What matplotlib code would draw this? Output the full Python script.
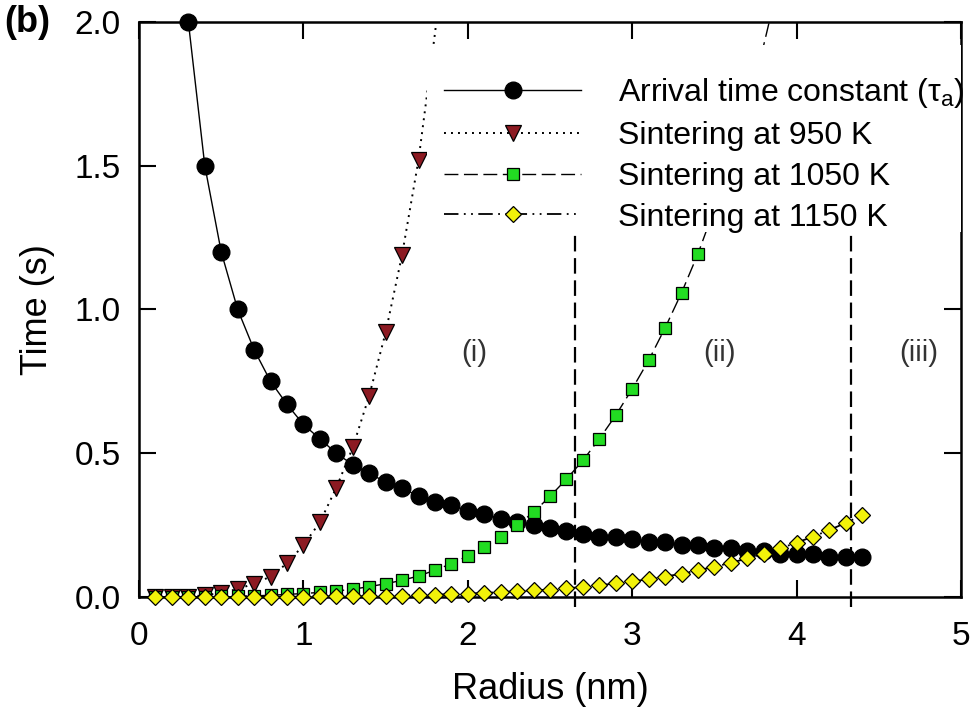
import numpy as np
import matplotlib
matplotlib.use('Agg')
import matplotlib.pyplot as plt
from matplotlib.patches import Rectangle

plt.rcParams['font.family'] = ['Liberation Sans', 'DejaVu Sans']
plt.rcParams['mathtext.fontset'] = 'custom'
plt.rcParams['mathtext.rm'] = 'Liberation Sans'

# radius grid (nm)
r_arrival = [0.3, 0.4, 0.5, 0.6, 0.7, 0.8, 0.9, 1.0, 1.1, 1.2, 1.3, 1.4, 1.5, 1.6,
             1.7, 1.8, 1.9, 2.0, 2.1, 2.2, 2.3, 2.4, 2.5, 2.6, 2.7, 2.8, 2.9, 3.0,
             3.1, 3.2, 3.3, 3.4, 3.5, 3.6, 3.7, 3.8, 3.9, 4.0, 4.1, 4.2, 4.3, 4.4]
tau_arrival = [2.00, 1.50, 1.20, 1.00, 0.86, 0.75, 0.67, 0.60, 0.55, 0.50, 0.46, 0.43,
               0.40, 0.38, 0.35, 0.33, 0.32, 0.30, 0.29, 0.27, 0.26, 0.25, 0.24, 0.23,
               0.22, 0.21, 0.21, 0.20, 0.19, 0.19, 0.18, 0.18, 0.17, 0.17, 0.16, 0.16,
               0.15, 0.15, 0.15, 0.14, 0.14, 0.14]

r_950 = [0.1, 0.2, 0.3, 0.4, 0.5, 0.6, 0.7, 0.8, 0.9, 1.0, 1.1, 1.2, 1.3, 1.4, 1.5,
         1.6, 1.7, 1.8, 1.9]
t_950 = [0.0, 0.0, 0.001, 0.006, 0.014, 0.028, 0.046, 0.071, 0.117, 0.18, 0.26, 0.38,
         0.52, 0.70, 0.92, 1.19, 1.52, 1.96, 2.45]

r_1050 = [0.1, 0.2, 0.3, 0.4, 0.5, 0.6, 0.7, 0.8, 0.9, 1.0, 1.1, 1.2, 1.3, 1.4, 1.5,
          1.6, 1.7, 1.8, 1.9, 2.0, 2.1, 2.2, 2.3, 2.4, 2.5, 2.6, 2.7, 2.8, 2.9, 3.0,
          3.1, 3.2, 3.3, 3.4, 3.5, 3.6, 3.7, 3.8, 3.9]
t_1050 = [0.0, 0.0, 0.0, 0.001, 0.002, 0.003, 0.004, 0.006, 0.009, 0.012, 0.016, 0.021,
          0.027, 0.036, 0.046, 0.058, 0.073, 0.093, 0.116, 0.143, 0.175, 0.21, 0.25,
          0.295, 0.35, 0.41, 0.475, 0.55, 0.632, 0.724, 0.823, 0.936, 1.058, 1.194,
          1.35, 1.53, 1.72, 1.92, 2.16]

r_1150 = [0.1, 0.2, 0.3, 0.4, 0.5, 0.6, 0.7, 0.8, 0.9, 1.0, 1.1, 1.2, 1.3, 1.4, 1.5,
          1.6, 1.7, 1.8, 1.9, 2.0, 2.1, 2.2, 2.3, 2.4, 2.5, 2.6, 2.7, 2.8, 2.9, 3.0,
          3.1, 3.2, 3.3, 3.4, 3.5, 3.6, 3.7, 3.8, 3.9, 4.0, 4.1, 4.2, 4.3, 4.4]
t_1150 = [0.0, 0.0, 0.0, 0.0, 0.0, 0.0, 0.001, 0.001, 0.001, 0.001, 0.002, 0.002, 0.003,
          0.003, 0.004, 0.005, 0.007, 0.008, 0.010, 0.012, 0.014, 0.017, 0.020, 0.023,
          0.026, 0.030, 0.035, 0.041, 0.047, 0.054, 0.062, 0.071, 0.081, 0.093, 0.105,
          0.119, 0.134, 0.151, 0.169, 0.189, 0.21, 0.233, 0.258, 0.285]

# boundaries between regimes (i), (ii), (iii)
region_bounds = [2.65, 4.33]
region_labels = ['(i)', '(ii)', '(iii)']
region_label_x = [2.04, 3.53, 4.74]
region_label_y = 0.85

fig = plt.figure(figsize=(9.71, 7.19), dpi=100)
ax = fig.add_axes([0.1432, 0.1697, 0.8465, 0.7997])

ax.plot(r_arrival, tau_arrival, '-', color='black', lw=1.0, marker='o', ms=12,
        mfc='black', mec='black', clip_on=False, zorder=3,
        label='Arrival time constant (τ$_\\mathrm{a}$)')
ax.plot(r_950, t_950, color='black', lw=1.4, dashes=(1, 2.6), marker='v', ms=11,
        mfc='#8c1a22', mec='black', mew=0.9, markevery=slice(0, 17), zorder=3,
        label='Sintering at 950 K')
ax.plot(r_1050, t_1050, color='black', lw=1.0, dashes=(10, 4), marker='s', ms=8.5,
        mfc='#22dc22', mec='black', mew=0.9, markevery=slice(0, 34), zorder=3,
        label='Sintering at 1050 K')
ax.plot(r_1150, t_1150, color='black', lw=1.3, dashes=(8, 3, 1, 3, 1, 3),
        marker='D', ms=8, mfc='#f2f20a', mec='black', mew=0.9, clip_on=False, zorder=3,
        label='Sintering at 1150 K')

ax.vlines(region_bounds, -0.035, 1.28, colors='black', lw=1.6,
          linestyles=(0, (7, 3)), clip_on=False, zorder=1)
for lx, lab in zip(region_label_x, region_labels):
    ax.text(lx, region_label_y, lab, fontsize=21, color='#333333',
            ha='center', va='center')

ax.set_xlim(0, 5)
ax.set_ylim(0, 2)
ax.set_xticks([0, 1, 2, 3, 4, 5])
ax.set_yticks([0.0, 0.5, 1.0, 1.5, 2.0])
ax.set_yticklabels(['0.0', '0.5', '1.0', '1.5', '2.0'])
ax.tick_params(direction='in', length=12, width=1.5, top=True, right=True,
               labelsize=24)
ax.tick_params(axis='x', pad=17)
ax.tick_params(axis='y', pad=13)
for sp in ax.spines.values():
    sp.set_linewidth(1.8)

ax.set_xlabel('Radius (nm)', fontsize=26, labelpad=15)
ax.set_ylabel('Time (s)', fontsize=26, labelpad=14)

# white box behind the legend hides the curves running underneath it
ax.add_patch(Rectangle((0.3504, 0.635), 0.6496, 0.325, transform=ax.transAxes,
                       facecolor='white', edgecolor='none', zorder=4))

leg = ax.legend(loc='upper left', bbox_to_anchor=(0.371, 0.906), frameon=False,
                fontsize=23, handlelength=4.3, handletextpad=1.15, labelspacing=0.34,
                borderpad=0, borderaxespad=0, numpoints=1)
leg.set_zorder(5)

fig.text(0.004, 0.969, '(b)', fontsize=26, fontweight='bold', va='center', ha='left')

fig.savefig('out.png', dpi=100)
